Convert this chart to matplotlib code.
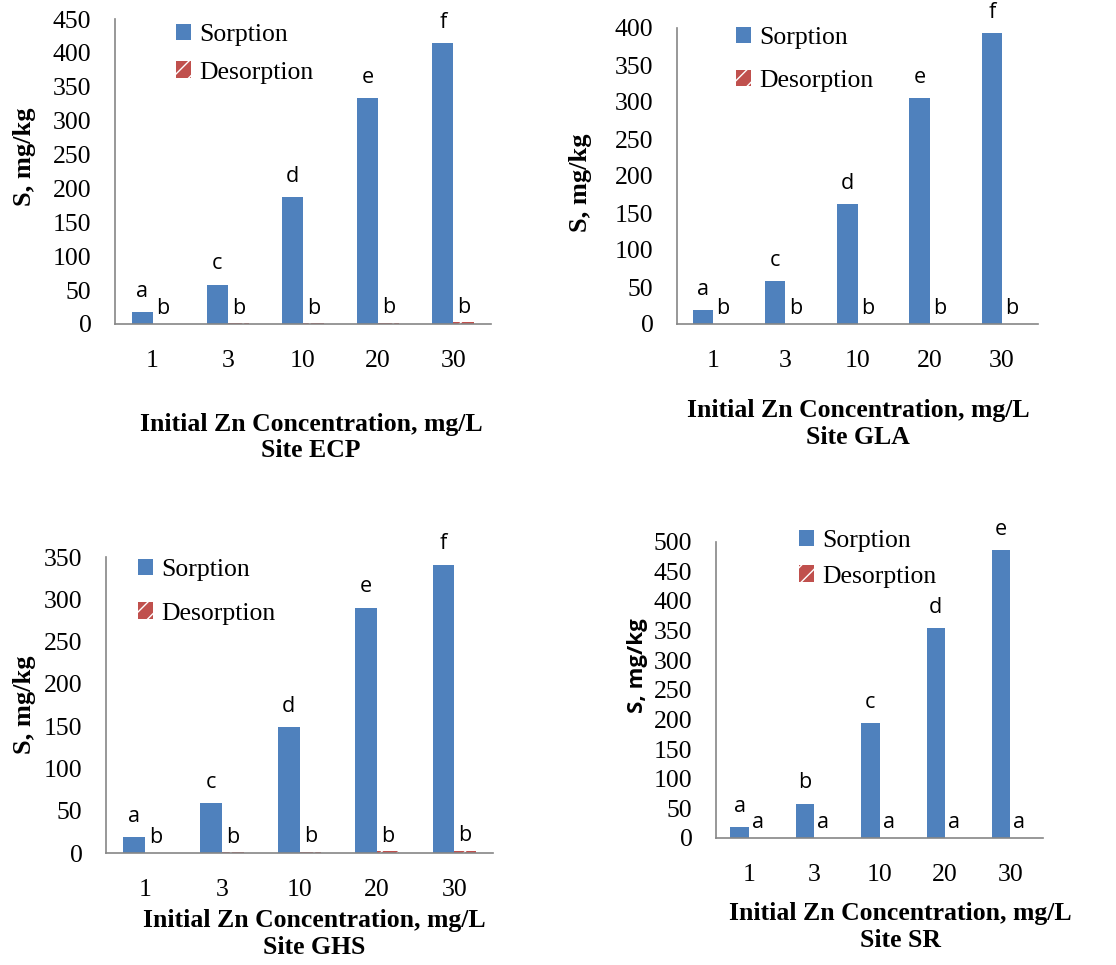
import matplotlib
matplotlib.use('Agg')
import matplotlib.pyplot as plt
from matplotlib.patches import Patch
import numpy as np

# ---------------- data ----------------
concentrations = ['1', '3', '10', '20', '30']
site_names = ['ECP', 'GLA', 'GHS', 'SR']

ecp_sorption = [18, 58, 187, 333, 414]
ecp_desorption = [0.6, 0.8, 1.0, 1.2, 2.5]
gla_sorption = [19, 58, 162, 305, 393]
gla_desorption = [0.4, 0.4, 0.5, 0.5, 0.6]
ghs_sorption = [19, 59, 149, 290, 341]
ghs_desorption = [0.4, 0.6, 1.5, 2.0, 2.5]
sr_sorption = [18, 58, 194, 354, 486]
sr_desorption = [0.4, 0.4, 0.5, 0.5, 0.5]

ecp_sorp_letters = ['a', 'c', 'd', 'e', 'f']
ecp_desorp_letters = ['b', 'b', 'b', 'b', 'b']
gla_sorp_letters = ['a', 'c', 'd', 'e', 'f']
gla_desorp_letters = ['b', 'b', 'b', 'b', 'b']
ghs_sorp_letters = ['a', 'c', 'd', 'e', 'f']
ghs_desorp_letters = ['b', 'b', 'b', 'b', 'b']
sr_sorp_letters = ['a', 'b', 'c', 'd', 'e']
sr_desorp_letters = ['a', 'a', 'a', 'a', 'a']

y_max = [450, 400, 350, 500]
y_step = 50

# ---------------- layout ----------------
W, H = 1116, 965
fig = plt.figure(figsize=(W / 100, H / 100), dpi=100)
fig.patch.set_facecolor('white')

SERIF = 'Liberation Serif'
SANS = 'Open Sans'
BLUE = '#4F81BD'
RED = '#C0504D'
SPINE = '#868686'

# axes rectangles in pixels: left, top, right, bottom
rects = [(115, 19, 491, 324), (677, 28, 1038, 324),
         (106, 557, 493, 853), (716, 541.7, 1043, 838)]
# legend: handle-left x, first-row centre y, row spacing
legend_pos = [(176, 34.5, 37.5), (735.7, 37.5, 43), (138, 570, 43), (799, 540.5, 35.5)]
xlabel_pos = [(311, 437.5), (858, 424), (314, 934), (900, 927)]
ylabel_pos = [(25, 157), (580, 183), (25, 705), (637, 666)]
ylabel_family = [SERIF, SERIF, SERIF, SANS]

sorps = [ecp_sorption, gla_sorption, ghs_sorption, sr_sorption]
desorps = [ecp_desorption, gla_desorption, ghs_desorption, sr_desorption]
s_letters = [ecp_sorp_letters, gla_sorp_letters, ghs_sorp_letters, sr_sorp_letters]
d_letters = [ecp_desorp_letters, gla_desorp_letters, ghs_desorp_letters, sr_desorp_letters]

FS = 18.5
bw = 0.28

for i in range(4):
    l, t, r, b = rects[i]
    ax = fig.add_axes([l / W, 1 - b / H, (r - l) / W, (b - t) / H])
    x = np.arange(len(concentrations))
    ax.bar(x - bw / 2, sorps[i], bw, color=BLUE, label='Sorption', zorder=2)
    ax.bar(x + bw / 2, desorps[i], bw, color=RED, edgecolor='white', hatch='//',
           linewidth=0, label='Desorption', zorder=2)
    for xi, v, lt in zip(x, sorps[i], s_letters[i]):
        ax.annotate(lt, (xi - bw / 2, v), xytext=(0, 11), textcoords='offset points',
                    ha='center', va='baseline', fontsize=15.5, family=SANS)
    for xi, v, lt in zip(x, desorps[i], d_letters[i]):
        ax.annotate(lt, (xi + bw / 2, v), xytext=(0, 7), textcoords='offset points',
                    ha='center', va='baseline', fontsize=15.5, family=SANS)
    ax.set_xlim(-0.5, len(concentrations) - 0.5)
    ax.set_ylim(0, y_max[i])
    ax.set_yticks(np.arange(0, y_max[i] + 1, y_step))
    ax.set_xticks(x)
    ax.set_xticklabels(concentrations)
    for lab in ax.get_xticklabels() + ax.get_yticklabels():
        lab.set_fontfamily(SERIF)
        lab.set_fontsize(FS)
    ax.tick_params(axis='both', length=0)
    ax.tick_params(axis='y', pad=17)
    ax.tick_params(axis='x', pad=19)
    for s in ['top', 'right']:
        ax.spines[s].set_visible(False)
    for s in ['left', 'bottom']:
        ax.spines[s].set_color(SPINE)
        ax.spines[s].set_linewidth(1.2)
    ax.set_facecolor('none')

    hx, hy, sp = legend_pos[i]
    handles = [Patch(facecolor=BLUE, edgecolor=BLUE, linewidth=0),
               Patch(facecolor=RED, edgecolor='white', hatch='//', linewidth=0)]
    fs_px = FS * 100 / 72
    row_h = 0.85 * fs_px
    leg = ax.legend(handles, ['Sorption', 'Desorption'], loc='upper left',
                    bbox_to_anchor=(hx / W, 1 - (hy - row_h / 2) / H),
                    bbox_transform=fig.transFigure, frameon=False,
                    prop={'family': SERIF, 'size': FS}, borderpad=0, borderaxespad=0,
                    handlelength=0.6, handleheight=0.6, handletextpad=0.3,
                    labelspacing=(sp - row_h) / fs_px)

    xl, yl = xlabel_pos[i]
    fig.text(xl / W, 1 - yl / H, 'Initial Zn Concentration, mg/L\nSite ' + site_names[i],
             ha='center', va='center', multialignment='center', family=SERIF,
             fontweight='bold', fontsize=18.5, linespacing=1.22)
    yx, yy = ylabel_pos[i]
    fig.text(yx / W, 1 - yy / H, 'S, mg/kg', rotation=90, ha='center', va='center',
             family=ylabel_family[i], fontweight='bold',
             fontsize=19 if ylabel_family[i] == SERIF else 16)

fig.savefig('out.png', dpi=100)
